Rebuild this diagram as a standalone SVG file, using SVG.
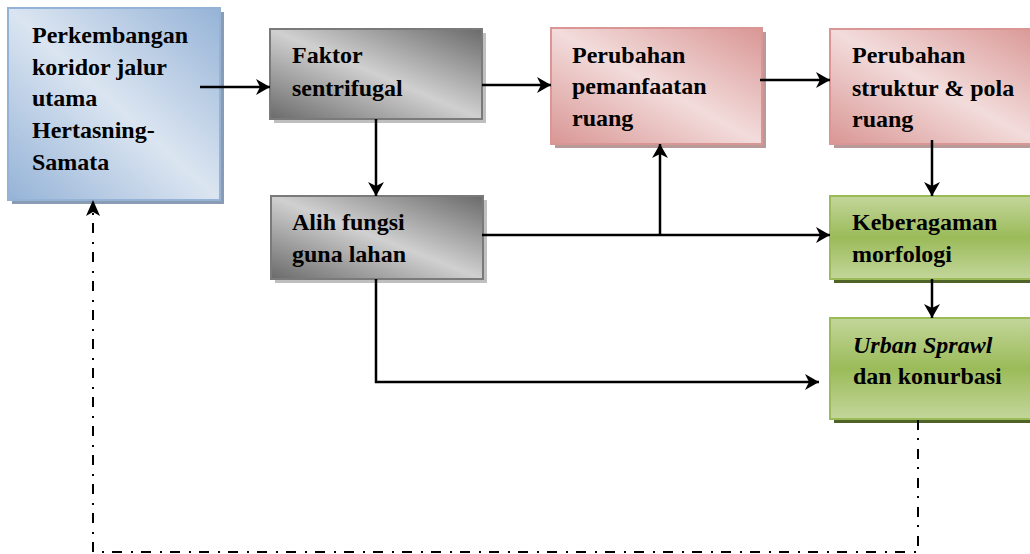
<svg xmlns="http://www.w3.org/2000/svg" width="1030" height="554" viewBox="0 0 1030 554">
<style>
  .t { font-family: "Liberation Serif", "Times New Roman", serif; font-weight: bold; font-size: 24px; fill: #000; }
  .it { font-style: italic; }
  .ln { fill: none; stroke: #000; stroke-width: 2.5; }
  .dd { fill: none; stroke: #000; stroke-width: 2; stroke-dasharray: 10 8 2 9; }
  .blue { fill: url(#gBlue); stroke: #95b3d7; stroke-width: 2; }
  .gray { fill: url(#gGray); stroke: #7a7a7a; stroke-width: 2; }
  .pink { fill: url(#gPink); stroke: #d99694; stroke-width: 2; }
  .green { fill: url(#gGreen); stroke: #9bbb59; stroke-width: 2; }
</style>
<defs>
  <linearGradient id="gBlue" x1="1" y1="0" x2="0" y2="1">
    <stop offset="0" stop-color="#95b3d7"/>
    <stop offset="0.5" stop-color="#dbe5f1"/>
    <stop offset="1" stop-color="#95b3d7"/>
  </linearGradient>
  <linearGradient id="gGray" x1="1" y1="0" x2="0" y2="1">
    <stop offset="0" stop-color="#6a6a6a"/>
    <stop offset="0.5" stop-color="#d0d0d0"/>
    <stop offset="1" stop-color="#6a6a6a"/>
  </linearGradient>
  <linearGradient id="gPink" x1="1" y1="0" x2="0" y2="1">
    <stop offset="0" stop-color="#d99694"/>
    <stop offset="0.5" stop-color="#f2dcdb"/>
    <stop offset="1" stop-color="#d99694"/>
  </linearGradient>
  <linearGradient id="gGreen" x1="0" y1="0" x2="0" y2="1">
    <stop offset="0" stop-color="#c3d69b"/>
    <stop offset="0.5" stop-color="#9bbb59"/>
    <stop offset="1" stop-color="#c3d69b"/>
  </linearGradient>
  <marker id="arr" markerUnits="userSpaceOnUse" viewBox="0 0 14 16" refX="14" refY="8" markerWidth="14" markerHeight="16" orient="auto">
    <path d="M0,0 L14,8 L0,16 L4,8 Z" fill="#000"/>
  </marker>
</defs>

<g id="n-perkembangan">
  <rect x="12" y="12" width="212" height="192" fill="#8a9cb3"/>
  <rect x="8" y="8" width="212" height="192" class="blue"/>
  <text class="t" x="32" y="43">Perkembangan</text>
  <text class="t" x="32" y="75">koridor jalur</text>
  <text class="t" x="32" y="106">utama</text>
  <text class="t" x="32" y="138">Hertasning-</text>
  <text class="t" x="32" y="170">Samata</text>
</g>

<g id="n-faktor">
  <rect x="274" y="33" width="212" height="90" fill="#bfbfbf"/>
  <rect x="270" y="29" width="212" height="90" class="gray"/>
  <text class="t" x="292" y="63">Faktor</text>
  <text class="t" x="292" y="96">sentrifugal</text>
</g>

<g id="n-alih">
  <rect x="275" y="200" width="212" height="83" fill="#bfbfbf"/>
  <rect x="271" y="196" width="212" height="83" class="gray"/>
  <text class="t" x="292" y="230">Alih fungsi</text>
  <text class="t" x="292" y="262">guna lahan</text>
</g>

<g id="n-pemanfaatan">
  <rect x="555" y="32" width="211" height="116" fill="#b89a9a"/>
  <rect x="551" y="28" width="211" height="116" class="pink"/>
  <text class="t" x="572" y="63">Perubahan</text>
  <text class="t" x="572" y="94">pemanfaatan</text>
  <text class="t" x="572" y="126">ruang</text>
</g>

<g id="n-struktur">
  <rect x="834" y="33" width="212" height="115" fill="#b89a9a"/>
  <rect x="830" y="29" width="212" height="115" class="pink"/>
  <text class="t" x="852" y="63">Perubahan</text>
  <text class="t" x="852" y="96">struktur &amp; pola</text>
  <text class="t" x="852" y="127">ruang</text>
</g>

<g id="n-keberagaman">
  <rect x="834" y="200" width="212" height="83" fill="#4f6228"/>
  <rect x="830" y="196" width="212" height="83" class="green"/>
  <text class="t" x="852" y="230">Keberagaman</text>
  <text class="t" x="852" y="262">morfologi</text>
</g>

<g id="n-urban">
  <rect x="834" y="322" width="212" height="101" fill="#4f6228"/>
  <rect x="830" y="318" width="212" height="101" class="green"/>
  <text class="t" x="853" y="353"><tspan class="it">Urban Sprawl</tspan></text>
  <text class="t" x="853" y="384">dan konurbasi</text>
</g>

<g id="connectors">
  <path class="ln" d="M200,87 H270" marker-end="url(#arr)"/>
  <path class="ln" d="M482,85 H551" marker-end="url(#arr)"/>
  <path class="ln" d="M760,80 H830" marker-end="url(#arr)"/>
  <path class="ln" d="M376,119 V196" marker-end="url(#arr)"/>
  <path class="ln" d="M482,235 H830" marker-end="url(#arr)"/>
  <path class="ln" d="M660,235 V144" marker-end="url(#arr)"/>
  <path class="ln" d="M932,140 V196" marker-end="url(#arr)"/>
  <path class="ln" d="M932,279 V318" marker-end="url(#arr)"/>
  <path class="ln" d="M376,279 V382 H819" marker-end="url(#arr)"/>
  <path class="dd" d="M918,420 V552 H93 V202"/>
  <path d="M86,216 L93,200 L100,216 L93,212 Z" fill="#000"/>
</g>
</svg>
